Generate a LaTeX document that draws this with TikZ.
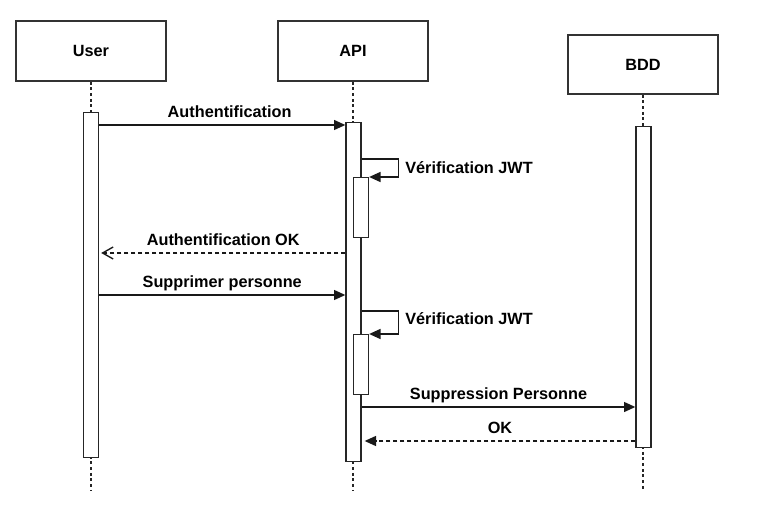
\documentclass[tikz,border=0pt]{standalone}
\usepackage{fontspec}
\setmainfont{Liberation Sans}
\usetikzlibrary{arrows.meta,positioning,calc}

\tikzset{
  txt/.style={font=\fontsize{12.2}{14}\selectfont\bfseries},
  actor/.style={txt,draw=black!80,line width=1.2pt,fill=white,
    minimum width=112.5pt,minimum height=45pt},
  bar/.style={draw=black!85,line width=1pt,fill=white,
    minimum width=11.25pt,inner sep=0pt,anchor=north},
  lifeline/.style={draw=black!85,line width=1.1pt,dash pattern=on 2.25pt off 2pt},
  msg/.style={draw=black!90,line width=1pt,-{Triangle[length=8.5pt,width=7.5pt]}},
  reply/.style={msg,dash pattern=on 3pt off 2.25pt},
  lbl/.style={txt,above=1.5pt,inner sep=1pt,text height=9pt,text depth=2.5pt},
  note/.style={txt,right=3.5pt,inner sep=1pt}
}

\begin{document}
\begin{tikzpicture}[x=0.75pt,y=-0.75pt]
\useasboundingbox (0,0) rectangle (759,530);

% participants
\node[actor] (user) at (91,51) {User};
\node[actor] (api) at (353,51) {API};
\node[actor,minimum height=44.25pt] (bdd) at (643,64.5) {BDD};

\foreach \n in {user,api,bdd}
  {\draw[lifeline] (\n.south) -- (\n.south |- {(0,490)});}

% activations
\node[bar,minimum height=258.75pt] (ubar) at (91,112) {};
\node[bar,minimum height=254.25pt] (abar) at (353.5,122) {};
\node[bar,minimum height=240.75pt] (bbar) at (643.5,126) {};
\node[bar,minimum height=45pt] (vbar1) at (361,177) {};
\node[bar,minimum height=45pt] (vbar2) at (361,334) {};

% messages
\draw[msg] (ubar.east |- {(0,125)}) -- (abar.west |- {(0,125)})
  node[lbl,pos=0.53] {Authentification};

\draw[msg] (abar.east |- {(0,159)}) -- ++(37,0) |- (vbar1.north east)
  node[note,pos=0.25] {Vérification JWT};

\draw[reply,-{Straight Barb[length=8pt,width=9pt]}]
  (abar.west |- {(0,253)}) -- ($(ubar.east |- {(0,253)})+(2,0)$)
  node[lbl,midway] {Authentification OK};

\draw[msg] (ubar.east |- {(0,295)}) -- (abar.west |- {(0,295)})
  node[lbl,midway] {Supprimer personne};

\draw[msg] (abar.east |- {(0,311)}) -- ++(37,0) |- (vbar2.north east)
  node[note,pos=0.25,yshift=3pt] {Vérification JWT};

\draw[msg] (abar.east |- {(0,407)}) -- (bbar.west |- {(0,407)})
  node[lbl,midway] {Suppression Personne};

\draw[reply] (bbar.west |- {(0,441)}) -- ($(abar.east |- {(0,441)})+(3,0)$)
  node[lbl,midway] {OK};

\end{tikzpicture}
\end{document}
